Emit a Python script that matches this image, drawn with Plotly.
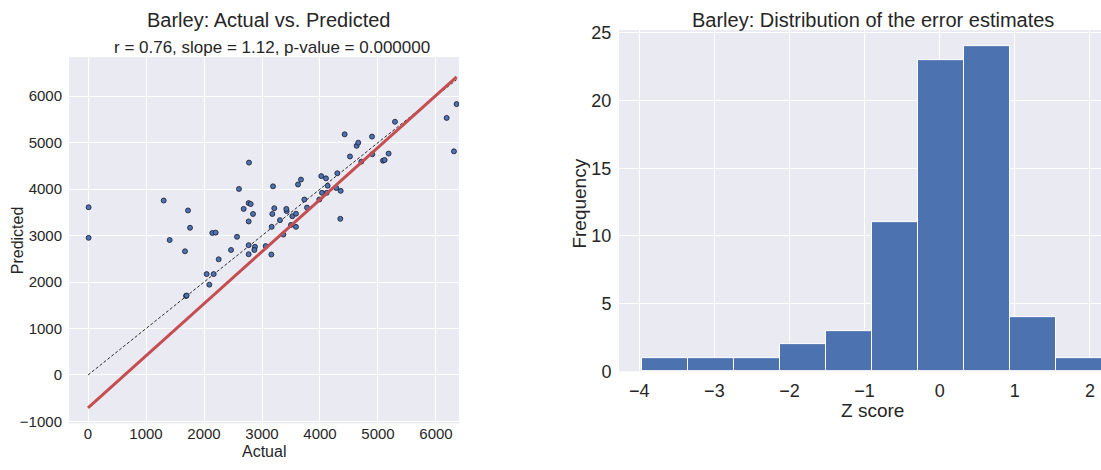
import plotly.graph_objects as go

# ---------------- data ----------------
actual = [10, 10, 1305, 1724, 1759, 1408, 1672, 2143, 2201, 2569,
          2776, 2603, 2770, 2805, 2684, 2845, 2770, 2466, 2770, 2879,
          2868, 3161, 3190, 3212, 3178, 3167, 3310, 3425, 3419, 3368,
          3523, 3586, 3586, 3621, 3672, 3730, 3776, 3063, 4425, 4897,
          5293, 6184, 6356, 6310, 4632, 4660, 4517, 4902, 5183, 5086,
          5115, 4712, 4022, 4103, 4299, 4132, 4281, 4357, 4034, 4115,
          3988, 4350, 2770, 3500, 2046, 2167, 2092, 2253, 1690, 1700]
predicted = [3610, 2952, 3755, 3541, 3168, 2905, 2662, 3056, 3064, 2974,
             4571, 4004, 3700, 3679, 3575, 3465, 3305, 2691, 2795, 2759,
             2691, 2593, 4060, 3589, 3465, 3188, 3333, 3527, 3575, 3022,
             3417, 3471, 3188, 4101, 4205, 3776, 3603, 2774, 5180, 5131,
             5450, 5533, 5830, 4813, 4931, 5000, 4703, 4751, 4765, 4612,
             4627, 4591, 4280, 4232, 4342, 4073, 4025, 3963, 3921, 3921,
             3776, 3361, 2600, 3230, 2172, 2172, 1944, 2490, 1701, 1710]
fit_slope = 1.12
fit_intercept = -705

bin_edges = [-3.965, -3.352, -2.739, -2.126, -1.513, -0.900, -0.287,
             0.326, 0.939, 1.552, 2.165]
counts = [1, 1, 1, 2, 3, 11, 23, 24, 4, 1]

x_ticks_left = [0, 1000, 2000, 3000, 4000, 5000, 6000]
y_ticks_left = [-1000, 0, 1000, 2000, 3000, 4000, 5000, 6000]
x_ticks_right = [-4, -3, -2, -1, 0, 1, 2]
y_ticks_right = [0, 5, 10, 15, 20, 25]

# ---------------- style ----------------
W, H = 1101, 470
BG = "#EAEAF2"
TXT = "#262626"
BLUE = "#4C72B0"
RED = "#C44E52"
FONT = "Liberation Sans, Arial, sans-serif"
CLEAR = "rgba(0,0,0,0)"


def fmt(v):
    return f"{v:g}".replace("-", "\u2212")


def px(x):
    return x / W


def py(y):
    return 1 - y / H


fig = go.Figure()

xmax = max(actual)
# identity line
fig.add_trace(go.Scatter(x=[0, xmax], y=[0, xmax], mode="lines",
                         line=dict(color="#2a2a2a", width=1, dash="3px,2px"),
                         xaxis="x", yaxis="y", hoverinfo="skip"))
# scatter points
fig.add_trace(go.Scatter(x=actual, y=predicted, mode="markers",
                         marker=dict(color=BLUE, size=5,
                                     line=dict(color="#1a1a2e", width=0.8)),
                         xaxis="x", yaxis="y"))
# regression line
fig.add_trace(go.Scatter(x=[0, xmax],
                         y=[fit_intercept, fit_slope * xmax + fit_intercept],
                         mode="lines", line=dict(color=RED, width=3),
                         xaxis="x", yaxis="y", hoverinfo="skip"))

# histogram bars
centers = [(a + b) / 2 for a, b in zip(bin_edges[:-1], bin_edges[1:])]
widths = [b - a for a, b in zip(bin_edges[:-1], bin_edges[1:])]
fig.add_trace(go.Bar(x=centers, y=counts, width=widths,
                     marker=dict(color=BLUE, line=dict(color="white", width=1)),
                     xaxis="x2", yaxis="y2"))


def ax(size, ticklen, **kw):
    d = dict(showgrid=True, gridcolor="white", gridwidth=1,
             zeroline=False, showline=False,
             ticks="outside" if ticklen else "",
             ticklen=max(ticklen, 1), tickcolor=CLEAR,
             tickfont=dict(family=FONT, color=TXT, size=size))
    d.update(kw)
    return d


fig.update_layout(
    width=W, height=H, autosize=False,
    margin=dict(l=0, r=0, t=0, b=0),
    paper_bgcolor="white", plot_bgcolor=BG,
    showlegend=False,
    font=dict(family=FONT, color=TXT),
    bargap=0,
    xaxis=ax(15, 0, domain=[px(69), px(459)], range=[-328, 6397],
             tickvals=x_ticks_left, ticktext=[fmt(v) for v in x_ticks_left],
             anchor="y"),
    yaxis=ax(15, 3, domain=[py(432), py(52)], range=[-1041, 6841],
             tickvals=y_ticks_left, ticktext=[fmt(v) for v in y_ticks_left],
             anchor="x"),
    xaxis2=ax(18, 3, domain=[px(619), 1.0], range=[-4.27, 2.147],
              tickvals=x_ticks_right, ticktext=[fmt(v) for v in x_ticks_right],
              anchor="y2"),
    yaxis2=ax(18, 3, domain=[py(378), py(24)], range=[0, 25.2],
              tickvals=y_ticks_right, ticktext=[fmt(v) for v in y_ticks_right],
              anchor="x2"),
)

annots = [
    dict(text="Barley: Actual vs. Predicted", x=px(268), y=py(14), size=20),
    dict(text="r = 0.76, slope = 1.12, p-value = 0.000000", x=px(272), y=py(42), size=17),
    dict(text="Actual", x=px(264), y=py(461), size=16),
    dict(text="Barley: Distribution of the error estimates", x=px(873), y=py(14), size=20),
    dict(text="Z score", x=px(872), y=py(419), size=19),
]
for a in annots:
    fig.add_annotation(text=a["text"], x=a["x"], y=a["y"], xref="paper", yref="paper",
                       xanchor="center", yanchor="middle", showarrow=False,
                       font=dict(family=FONT, color=TXT, size=a["size"]))
fig.add_annotation(text="Predicted", x=px(17), y=py(242), xref="paper", yref="paper",
                   xanchor="center", yanchor="middle", showarrow=False, textangle=-90,
                   font=dict(family=FONT, color=TXT, size=16))
fig.add_annotation(text="Frequency", x=px(580), y=py(204), xref="paper", yref="paper",
                   xanchor="center", yanchor="middle", showarrow=False, textangle=-90,
                   font=dict(family=FONT, color=TXT, size=19))

fig.write_html("out.html")
